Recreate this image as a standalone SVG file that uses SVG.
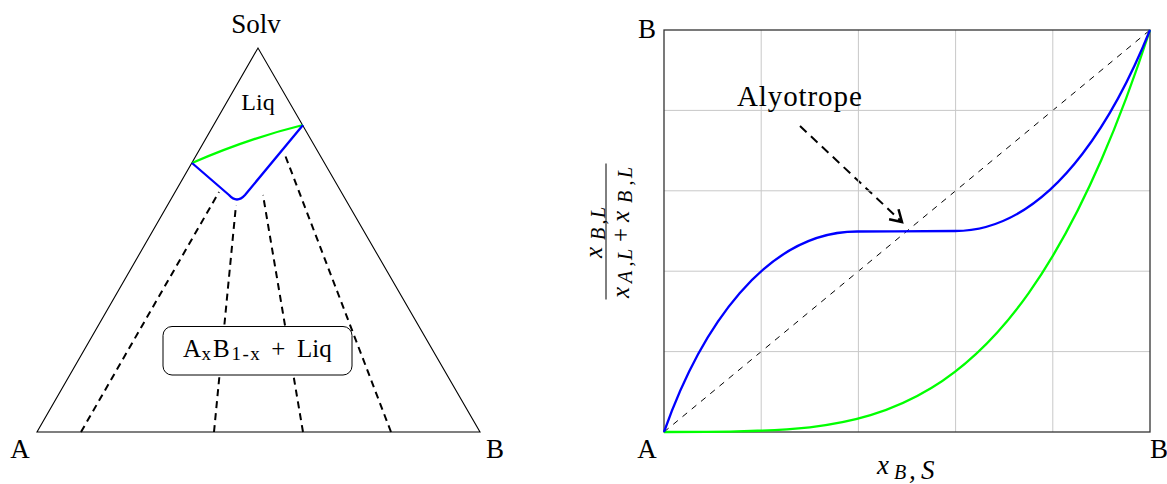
<svg xmlns="http://www.w3.org/2000/svg" width="1167" height="484" viewBox="0 0 1167 484">
<style>
text{font-family:"Liberation Serif","Times New Roman",serif;fill:#000}
.lbl{font-size:27px}
.it{font-style:italic}
.tri{fill:none;stroke:#000;stroke-width:1.1}
.tie{fill:none;stroke:#000;stroke-width:2;stroke-dasharray:7,5}
.blue{fill:none;stroke:#0000ff;stroke-width:2.3;stroke-linejoin:round}
.green{fill:none;stroke:#00ff00;stroke-width:2.3}
.grid{stroke:#c8c8c8;stroke-width:1}
.diag{fill:none;stroke:#000;stroke-width:1;stroke-dasharray:6,6}
</style>
<defs>
<marker id="vhead" markerWidth="20" markerHeight="20" refX="0" refY="0" viewBox="-12 -8 14 16" orient="auto" markerUnits="userSpaceOnUse">
<path d="M-9,-5.5 L0,0 L-9,5.5" fill="none" stroke="#000" stroke-width="2"/>
</marker>
</defs>
<rect width="1167" height="484" fill="#fff"/>

<g id="ternary">
<path class="tri" d="M37,432 L480,432 L258,48 Z"/>
</g>
<g id="connectors">
<line class="tie" x1="81" y1="432" x2="219" y2="192"/>
<line class="tie" x1="214" y1="432" x2="236" y2="205"/>
<line class="tie" x1="303" y1="432" x2="263" y2="195"/>
<line class="tie" x1="391" y1="432" x2="285" y2="155"/>
<path class="diag" d="M664,432 L1150,30"/>
<path d="M800,126 L902,222" fill="none" stroke="#000" stroke-width="2" stroke-dasharray="9,6" marker-end="url(#vhead)"/>
</g>
<g id="liquidus">
<path class="green" d="M192,163 Q250,138 303,125"/>
<path class="blue" d="M192,163 L229,195 Q237,204 245,195 L303,125"/>
</g>
<g id="node-solid-liq">
<rect x="163" y="326.5" width="189" height="48.5" rx="9" ry="9" fill="#fff" stroke="#000" stroke-width="1"/>
<text y="357" font-size="25"><tspan x="183">A</tspan><tspan x="201.5" dy="2.5" font-size="19">x</tspan><tspan x="213" dy="-2.5">B</tspan><tspan x="231.5" dy="2.5" font-size="19" letter-spacing="1.5">1-x</tspan><tspan x="278.3" dy="-2.5" text-anchor="middle">+</tspan><tspan x="297">Liq</tspan></text>
</g>
<g id="labels-ternary">
<text class="lbl" x="256" y="33" text-anchor="middle">Solv</text>
<text x="258" y="110" font-size="24" text-anchor="middle">Liq</text>
<text class="lbl" x="20" y="458" text-anchor="middle">A</text>
<text class="lbl" x="495" y="458" text-anchor="middle">B</text>
</g>

<g id="plot">
<line class="grid" x1="761.2" y1="30" x2="761.2" y2="432"/>
<line class="grid" x1="858.4" y1="30" x2="858.4" y2="432"/>
<line class="grid" x1="955.6" y1="30" x2="955.6" y2="432"/>
<line class="grid" x1="1052.8" y1="30" x2="1052.8" y2="432"/>
<line class="grid" x1="664" y1="110.4" x2="1150" y2="110.4"/>
<line class="grid" x1="664" y1="190.8" x2="1150" y2="190.8"/>
<line class="grid" x1="664" y1="271.2" x2="1150" y2="271.2"/>
<line class="grid" x1="664" y1="351.6" x2="1150" y2="351.6"/>
<rect x="664" y="30" width="486" height="402" fill="none" stroke="#333" stroke-width="1.3"/>
</g>
<g id="curves">
<path class="green" d="M664,432 C712.6,432 761.2,432 809.8,427.3 C850.3,422.5 890.8,412.7 931.3,388 C963.7,368.2 996.1,338.9 1028.5,293.35 C1052.8,259.1 1077.1,215.7 1101.4,159.8 C1117.6,122.5 1133.8,79.6 1150,30"/>
<path class="blue" d="M664,432 C700,330 765,231 858,231.5 C890,231.5 925,231 955,231 C1060,231 1125,92 1150,30"/>
</g>
<g id="labels-plot">
<text x="737" y="106" font-size="29" letter-spacing="0.9">Alyotrope</text>
<text class="lbl" x="647" y="38" text-anchor="middle">B</text>
<text class="lbl" x="647" y="458" text-anchor="middle">A</text>
<text class="lbl" x="1159" y="458" text-anchor="middle">B</text>
<text y="474" font-size="27" class="it"><tspan x="877">x</tspan><tspan x="894" dy="5" font-size="20">B</tspan><tspan x="909">,</tspan><tspan x="921">S</tspan></text>
<g transform="translate(606,231.5) rotate(-90)">
<text y="-4" font-size="25" class="it"><tspan x="-26.5">x</tspan><tspan x="-8.5" dy="3" font-size="20">B</tspan><tspan x="7" font-size="20">,</tspan><tspan x="13.5" font-size="20">L</tspan></text>
<line x1="-68" y1="0" x2="68" y2="0" stroke="#000" stroke-width="1"/>
<text y="23" font-size="25"><tspan x="-66.5" class="it">x</tspan><tspan x="-51.5" dy="3" font-size="20" class="it">A</tspan><tspan x="-35" font-size="20" class="it">,</tspan><tspan x="-28.5" font-size="20" class="it">L</tspan><tspan x="-10.5" dy="-3">+</tspan><tspan x="9.5" class="it">x</tspan><tspan x="28.5" dy="3" font-size="20" class="it">B</tspan><tspan x="46" font-size="20" class="it">,</tspan><tspan x="53.5" font-size="20" class="it">L</tspan></text>
</g>
</g>
</svg>
